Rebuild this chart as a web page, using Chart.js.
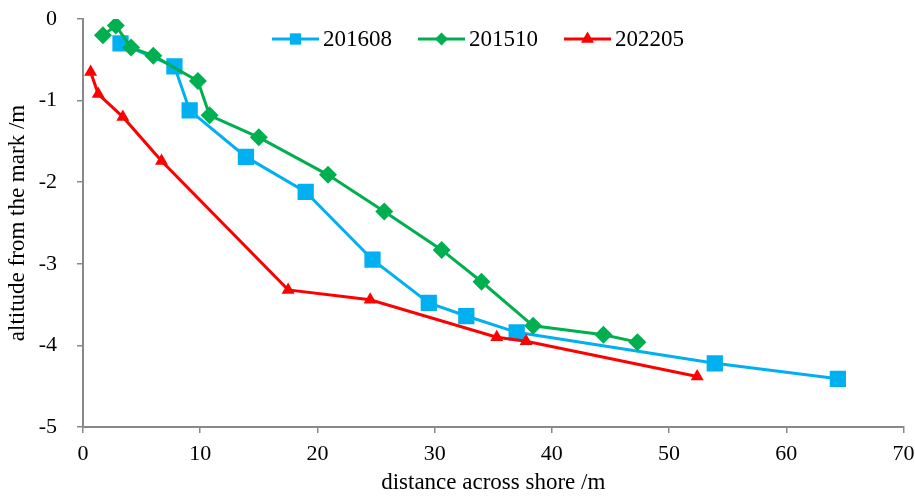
<!DOCTYPE html>
<html>
<head>
<meta charset="utf-8">
<script src="https://cdn.jsdelivr.net/npm/chart.js@4/dist/chart.umd.min.js"></script>
<style>
html, body { margin: 0; padding: 0; background: #fff; }
</style>
</head>
<body>
<canvas id="chart" width="915" height="498"></canvas>
<script>
// survey profiles (distance across shore /m, altitude /m)
var x201608 = [3.2, 7.8, 9.1, 13.9, 19.0, 24.7, 29.5, 32.7, 37.0, 53.9, 64.4];
var y201608 = [-0.30, -0.58, -1.12, -1.69, -2.12, -2.95, -3.48, -3.64, -3.84, -4.22, -4.41];

var x201510 = [1.7, 2.8, 4.1, 6.0, 9.8, 10.8, 15.0, 20.9, 25.7, 30.6, 34.0, 38.4, 44.4, 47.3];
var y201510 = [-0.20, -0.08, -0.35, -0.45, -0.76, -1.18, -1.45, -1.91, -2.36, -2.83, -3.22, -3.76, -3.87, -3.96];

var x202205 = [0.65, 1.3, 3.4, 6.7, 17.5, 24.5, 35.3, 37.8, 52.4];
var y202205 = [-0.65, -0.92, -1.20, -1.74, -3.32, -3.44, -3.90, -3.95, -4.38];

var seriesNames = ['201608', '201510', '202205'];
var xTicks = [0, 10, 20, 30, 40, 50, 60, 70];
var yTicks = [0, -1, -2, -3, -4, -5];

var axisGrey = '#898989';
var serif = "'Liberation Serif', 'Times New Roman', serif";

function toPoints(xs, ys) {
    var pts = [];
    for (var i = 0; i < xs.length; i++) {
        pts.push({ x: xs[i], y: ys[i] });
    }
    return pts;
}

// small marker drawing used by the legend
function drawMarker(ctx, style, x, y, r) {
    ctx.beginPath();
    if (style == 'rect') {
        var s = r * Math.SQRT1_2;
        ctx.rect(x - s, y - s, 2 * s, 2 * s);
    } else if (style == 'rectRot') {
        ctx.moveTo(x - r, y);
        ctx.lineTo(x, y - r);
        ctx.lineTo(x + r, y);
        ctx.lineTo(x, y + r);
    } else {
        ctx.moveTo(x, y - r);
        ctx.lineTo(x + r * Math.sin(Math.PI * 2 / 3), y - r * Math.cos(Math.PI * 2 / 3));
        ctx.lineTo(x + r * Math.sin(Math.PI * 4 / 3), y - r * Math.cos(Math.PI * 4 / 3));
    }
    ctx.closePath();
    ctx.fill();
}

// Excel style legend: line with marker, inside the plot
var lineLegend = {
    id: 'lineLegend',
    afterDraw: function (chart, args, opts) {
        var ctx = chart.ctx;
        var x = opts.x;
        var y = opts.y;
        ctx.save();
        ctx.font = '23px ' + serif;
        ctx.textBaseline = 'middle';
        ctx.textAlign = 'left';
        chart.data.datasets.forEach(function (ds, i) {
            ctx.strokeStyle = ds.borderColor;
            ctx.fillStyle = ds.borderColor;
            ctx.lineWidth = 3;
            ctx.beginPath();
            ctx.moveTo(x, y);
            ctx.lineTo(x + opts.lineLength, y);
            ctx.stroke();
            drawMarker(ctx, ds.pointStyle, x + opts.lineLength / 2, y, opts.markerSize[i]);
            ctx.fillStyle = '#000';
            var tx = x + opts.lineLength + 4;
            ctx.fillText(ds.label, tx, y + 1);
            x = tx + ctx.measureText(ds.label).width + opts.gap;
        });
        ctx.restore();
    }
};

new Chart(document.getElementById('chart').getContext('2d'), {
    type: 'scatter',
    data: {
        datasets: [
            {
                label: seriesNames[0],
                data: toPoints(x201608, y201608),
                showLine: true,
                borderColor: '#00B0F0',
                backgroundColor: '#00B0F0',
                borderWidth: 3,
                pointStyle: 'rect',
                pointRadius: 11.5,
                pointBorderWidth: 0,
                order: 3
            },
            {
                label: seriesNames[1],
                data: toPoints(x201510, y201510),
                showLine: true,
                borderColor: '#00B050',
                backgroundColor: '#00B050',
                borderWidth: 3,
                pointStyle: 'rectRot',
                pointRadius: 9,
                pointBorderWidth: 0,
                order: 2
            },
            {
                label: seriesNames[2],
                data: toPoints(x202205, y202205),
                showLine: true,
                borderColor: '#FF0000',
                backgroundColor: '#FF0000',
                borderWidth: 3,
                pointStyle: 'triangle',
                pointRadius: 7.5,
                pointBorderWidth: 0,
                order: 1
            }
        ]
    },
    options: {
        responsive: false,
        animation: false,
        devicePixelRatio: 1,
        layout: { padding: { left: 0, right: 10, top: 19, bottom: 0 } },
        plugins: {
            legend: { display: false },
            tooltip: { enabled: false },
            lineLegend: { x: 272, y: 39, lineLength: 47, gap: 26, markerSize: [8, 6.5, 7.5] }
        },
        scales: {
            x: {
                type: 'linear',
                min: 0,
                max: 70,
                afterBuildTicks: function (scale) {
                    scale.ticks = xTicks.map(function (v) { return { value: v }; });
                },
                afterFit: function (scale) {
                    scale.height = 71;
                    scale.paddingLeft = 0;
                    scale.paddingRight = 0;
                },
                border: { display: true, color: axisGrey, width: 2 },
                grid: { drawOnChartArea: false, drawTicks: true, tickLength: 6, color: axisGrey, lineWidth: 1.5 },
                ticks: { color: '#000', font: { family: serif, size: 22 }, padding: 8 },
                title: {
                    display: true,
                    text: 'distance across shore /m',
                    color: '#000',
                    font: { family: serif, size: 23 },
                    padding: { top: 0, bottom: 1 }
                }
            },
            y: {
                type: 'linear',
                min: -5,
                max: 0,
                afterBuildTicks: function (scale) {
                    scale.ticks = yTicks.map(function (v) { return { value: v }; });
                },
                afterFit: function (scale) {
                    scale.width = 83;
                    scale.paddingTop = 0;
                    scale.paddingBottom = 0;
                },
                border: { display: true, color: axisGrey, width: 2 },
                grid: { drawOnChartArea: false, drawTicks: true, tickLength: 6, color: axisGrey, lineWidth: 1.5 },
                ticks: { color: '#000', font: { family: serif, size: 22 }, padding: 20 },
                title: {
                    display: true,
                    text: 'altitude from the mark /m',
                    color: '#000',
                    font: { family: serif, size: 23 },
                    padding: { top: 4, bottom: 0 }
                }
            }
        }
    },
    plugins: [lineLegend]
});
</script>
</body>
</html>
